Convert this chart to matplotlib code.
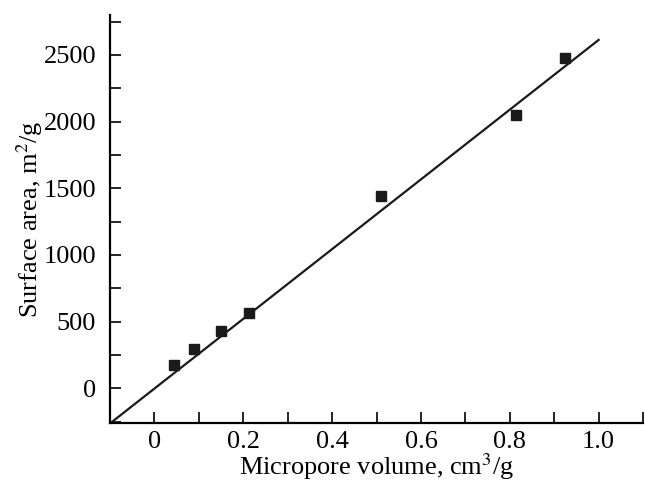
import numpy as np
import matplotlib.pyplot as plt
from matplotlib.ticker import MultipleLocator

plt.rcParams['font.family'] = ['Liberation Serif', 'DejaVu Serif']
plt.rcParams['mathtext.fontset'] = 'stix'

# data
volume = [0.045, 0.09, 0.151, 0.212, 0.511, 0.813, 0.925]
area = [173, 293, 428, 563, 1441, 2050, 2477]

# fitted line
fit_x = [-0.1, 1.0]
slope, intercept = 2615, -2

fig = plt.figure(figsize=(6.45, 4.82), dpi=100)
ax = fig.add_axes([0.1705, 0.1224, 0.8265, 0.8465])

fx = np.array(fit_x)
ax.plot(fx, slope * fx + intercept, color='#1a1a1a', lw=1.6)
ax.plot(volume, area, 's', color='#1a1a1a', markersize=7)

ax.set_xlim(-0.1, 1.1)
ax.set_ylim(-260, 2800)
ax.xaxis.set_major_locator(MultipleLocator(0.2))
ax.xaxis.set_minor_locator(MultipleLocator(0.1))
ax.yaxis.set_major_locator(MultipleLocator(500))
ax.yaxis.set_minor_locator(MultipleLocator(250))
ax.set_xticks([0, 0.2, 0.4, 0.6, 0.8, 1.0])
ax.set_xticklabels(['0', '0.2', '0.4', '0.6', '0.8', '1.0'])

for s in ['top', 'right']:
    ax.spines[s].set_visible(False)
for s in ['left', 'bottom']:
    ax.spines[s].set_linewidth(1.6)

ax.tick_params(which='both', direction='in', length=8, width=1.2, labelsize=19)
ax.tick_params(axis='x', pad=5.5)
ax.tick_params(axis='y', pad=10)

ax.set_xlabel('Micropore volume, cm$^3$/g', fontsize=19, labelpad=-1)
ax.set_ylabel('Surface area, m$^2$/g', fontsize=19, labelpad=-1)

fig.savefig('out.png', dpi=100)
